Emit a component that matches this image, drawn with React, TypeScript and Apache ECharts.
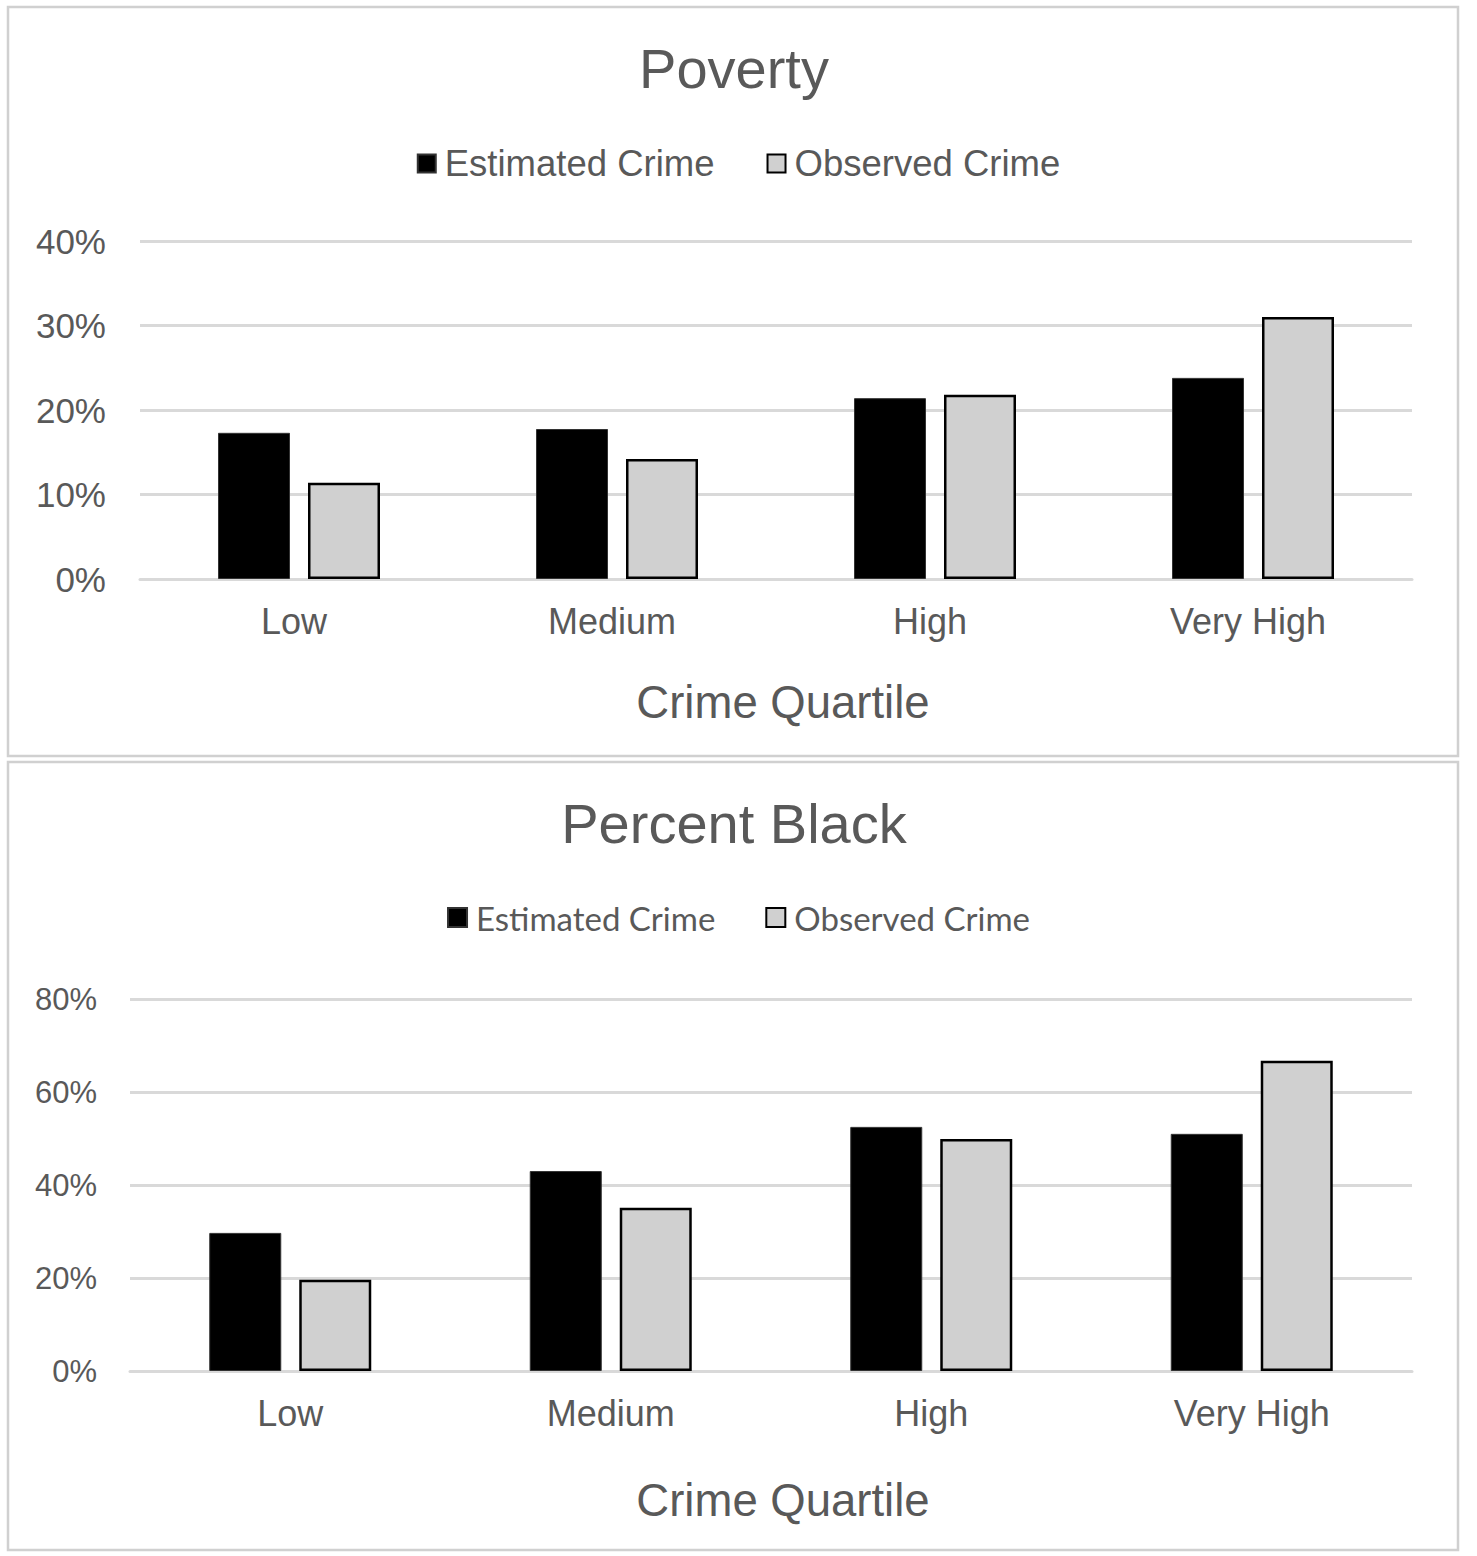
import React, { useEffect, useRef } from "react";
import * as echarts from "echarts";

const categories = ["Low", "Medium", "High", "Very High"];
const seriesNames = ["Estimated Crime", "Observed Crime"];
const povertyEstimated = [17.3, 17.75, 21.4, 23.8];
const povertyObserved = [11.4, 14.2, 21.8, 31.0];
const blackEstimated = [29.7, 43.0, 52.5, 51.0];
const blackObserved = [19.6, 35.1, 49.9, 66.7];
const povertyTicks = { min: 0, max: 40, interval: 10 };
const blackTicks = { min: 0, max: 80, interval: 20 };
const titles = ["Poverty", "Percent Black"];

const TXT = "#595959";
const GRID = "#d9d9d9";
const FONT = "'Liberation Sans', Arial, sans-serif";

export default function App() {
  const ref = useRef<HTMLDivElement>(null);
  useEffect(() => {
    if (!ref.current) return;
    const chart = echarts.init(ref.current, null, { renderer: "svg" });
    const xAxisBase = (gridIndex: number, labelPad: number[], namePad: number[], nameGap: number) => ({
      type: "category",
      gridIndex,
      data: categories,
      axisLine: { show: true, lineStyle: { color: GRID, width: 3 } },
      axisTick: { show: false },
      axisLabel: { color: TXT, fontSize: 36, fontFamily: FONT, margin: 24, padding: labelPad },
      name: "Crime Quartile",
      nameLocation: "middle",
      nameGap,
      nameTextStyle: { color: TXT, fontSize: 45.5, fontFamily: FONT, padding: namePad },
    });
    const yAxisBase = (gridIndex: number, t: any, fs: number, margin: number) => ({
      type: "value",
      gridIndex,
      min: t.min,
      max: t.max,
      interval: t.interval,
      axisLine: { show: false },
      axisTick: { show: false },
      splitLine: { show: true, lineStyle: { color: GRID, width: 3 } },
      axisLabel: { color: TXT, fontSize: fs, fontFamily: FONT, margin, formatter: "{value}%" },
    });
    const titleText = (text: string, y: number) => ({
      type: "text",
      x: 734,
      y,
      style: { text, fill: TXT, fontSize: 56, fontFamily: FONT, textAlign: "center", textVerticalAlign: "middle" },
    });
    const estStyle = { color: "#000000", borderColor: "#333333", borderWidth: 1 };
    const obsStyle = { color: "#d0d0d0", borderColor: "#000000", borderWidth: 2.5 };
    const option: any = {
      animation: false,
      backgroundColor: "#ffffff",
      graphic: [
        { type: "rect", shape: { x: 8, y: 7, width: 1450, height: 749 }, style: { fill: "none", stroke: "#d0d0d0", lineWidth: 2.5 } },
        { type: "rect", shape: { x: 8, y: 762, width: 1450, height: 788 }, style: { fill: "none", stroke: "#d0d0d0", lineWidth: 2.5 } },
        titleText(titles[0], 68),
        titleText(titles[1], 823),
      ],
      legend: [
        {
          data: seriesNames,
          left: "center",
          top: 140,
          icon: "rect",
          itemWidth: 18,
          itemHeight: 18,
          itemGap: 52,
          selectedMode: false,
          textStyle: { color: TXT, fontSize: 36.5, fontFamily: FONT, padding: [0, 0, 0, 4] },
        },
        {
          data: seriesNames,
          left: "center",
          top: 896,
          icon: "rect",
          itemWidth: 19,
          itemHeight: 19,
          itemGap: 50,
          selectedMode: false,
          textStyle: { color: TXT, fontSize: 33, fontFamily: "Lato, 'Open Sans', sans-serif", padding: [0, 0, 0, 4] },
        },
      ],
      grid: [
        { left: 140, right: 65, top: 241, bottom: 1556 - 579 },
        { left: 130, right: 65, top: 999, bottom: 1556 - 1371 },
      ],
      xAxis: [
        xAxisBase(0, [0, 10, 0, 0], [0, 0, 0, 14], 100),
        xAxisBase(1, [0, 0, 0, 0], [0, 0, 0, 24], 106),
      ],
      yAxis: [yAxisBase(0, povertyTicks, 35, 34), yAxisBase(1, blackTicks, 31, 33)],
      series: [
        { name: seriesNames[0], type: "bar", xAxisIndex: 0, yAxisIndex: 0, data: povertyEstimated, barWidth: 72, barGap: "25%", itemStyle: estStyle },
        { name: seriesNames[1], type: "bar", xAxisIndex: 0, yAxisIndex: 0, data: povertyObserved, barWidth: 72, barGap: "25%", itemStyle: obsStyle },
        { name: seriesNames[0], type: "bar", xAxisIndex: 1, yAxisIndex: 1, data: blackEstimated, barWidth: 72, barGap: "25%", itemStyle: estStyle },
        { name: seriesNames[1], type: "bar", xAxisIndex: 1, yAxisIndex: 1, data: blackObserved, barWidth: 72, barGap: "25%", itemStyle: obsStyle },
      ],
    };
    chart.setOption(option);
    return () => chart.dispose();
  }, []);
  return (
    <div
      ref={ref}
      style={{ position: "absolute", left: 0, top: 0, width: 1477, height: 1556 }}
    />
  );
}
